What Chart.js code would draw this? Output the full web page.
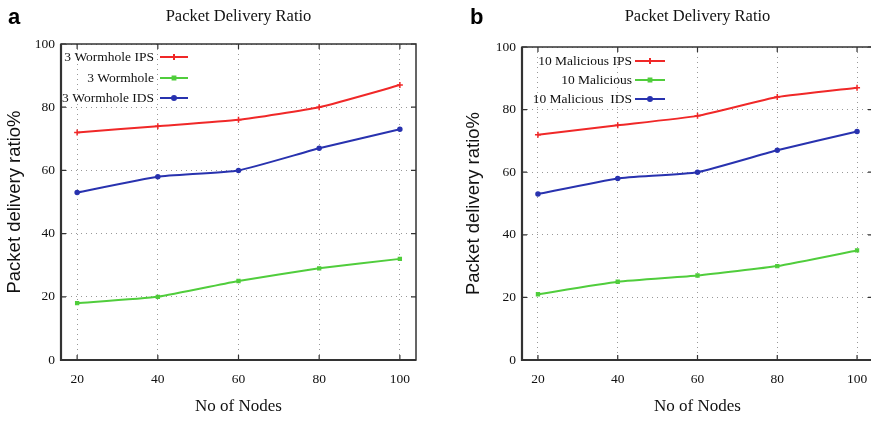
<!DOCTYPE html>
<html><head><meta charset="utf-8">
<script src="https://cdn.jsdelivr.net/npm/chart.js@4"></script>
<style>
html,body{margin:0;padding:0;background:#fff;overflow:hidden;width:871px;height:422px;}
#wa{position:absolute;left:0;top:0;width:435px;height:422px;}
#wb{position:absolute;left:435px;top:0;width:450px;height:422px;}
canvas{display:block;}
</style></head><body>
<div id="wa"><canvas id="ca" width="435" height="422"></canvas></div>
<div id="wb"><canvas id="cb" width="450" height="422"></canvas></div>
<script>
// ---- data ----
const nodes = [20, 40, 60, 80, 100];
const yTicks = [0, 20, 40, 60, 80, 100];
const wormholeIPS = [72, 74, 76, 80, 87];
const wormhole = [18, 20, 25, 29, 32];
const wormholeIDS = [53, 58, 60, 67, 73];
const maliciousIPS = [72, 75, 78, 84, 87];
const malicious = [21, 25, 27, 30, 35];
const maliciousIDS = [53, 58, 60, 67, 73];
const labelsA = ['3 Wormhole IPS', '3 Wormhole', '3 Wormhole IDS'];
const labelsB = ['10 Malicious IPS', '10 Malicious', '10 Malicious  IDS'];
const chartTitle = 'Packet Delivery Ratio';
const xTitle = 'No of Nodes';
const yTitle = 'Packet delivery ratio%';

const RED = 'rgb(240,40,40)', GREEN = 'rgb(80,205,60)', BLUE = 'rgb(40,50,175)';
const SERIF = '"Liberation Serif", "DejaVu Serif", serif';
const SANS = '"Liberation Sans", Arial, sans-serif';
const INK = '#111';

function pts(arr) { return nodes.map((x, i) => ({x: x, y: arr[i]})); }

function ds(label, arr, color, style, r) {
  return {label, data: pts(arr), borderColor: color, backgroundColor: color,
    borderWidth: 2, pointStyle: style, pointRadius: r, pointBorderWidth: 1.5,
    pointHoverRadius: r, tension: 0.15, fill: false};
}

const framePlugin = {
  id: 'frame',
  afterDatasetsDraw(chart) {
    const {ctx, chartArea: a} = chart;
    const xs = chart.scales.x, ys = chart.scales.y;
    ctx.save();
    ctx.strokeStyle = '#333';
    ctx.lineWidth = 1.5;
    ctx.strokeRect(a.left, a.top, a.right - a.left, a.bottom - a.top);
    ctx.lineWidth = 2.2;
    ctx.beginPath();
    ctx.moveTo(a.left, a.top); ctx.lineTo(a.left, a.bottom); ctx.lineTo(a.right, a.bottom);
    ctx.stroke();
    ctx.lineWidth = 1.2;
    ctx.beginPath();
    xs.ticks.forEach(t => {
      const px = xs.getPixelForValue(t.value);
      ctx.moveTo(px, a.top); ctx.lineTo(px, a.top + 5);
      ctx.moveTo(px, a.bottom); ctx.lineTo(px, a.bottom - 5);
    });
    ys.ticks.forEach(t => {
      const py = ys.getPixelForValue(t.value);
      ctx.moveTo(a.left, py); ctx.lineTo(a.left + 5, py);
      ctx.moveTo(a.right, py); ctx.lineTo(a.right - 5, py);
    });
    ctx.stroke();
    ctx.restore();
  }
};

const textPlugin = {
  id: 'texts',
  afterDraw(chart, args, o) {
    const {ctx, chartArea: a} = chart;
    ctx.save();
    ctx.fillStyle = INK;
    ctx.textAlign = 'center';
    ctx.textBaseline = 'middle';
    ctx.font = '16.5px ' + SERIF;
    ctx.fillText(o.title, (a.left + a.right) / 2, 17);
    ctx.textAlign = 'left';
    ctx.textBaseline = 'alphabetic';
    ctx.font = 'bold 22px ' + SANS;
    ctx.fillStyle = '#000';
    ctx.fillText(o.letter, o.letterX, 24);
    // legend
    ctx.font = '13.5px ' + SERIF;
    ctx.textAlign = 'right';
    ctx.textBaseline = 'middle';
    chart.data.datasets.forEach((d, i) => {
      const y = a.top + o.rows[i];
      ctx.fillStyle = INK;
      ctx.fillText(d.label, a.left + o.textRight, y);
      ctx.strokeStyle = d.borderColor;
      ctx.lineWidth = 2;
      ctx.beginPath();
      ctx.moveTo(a.left + o.line0, y); ctx.lineTo(a.left + o.line1, y);
      ctx.stroke();
      ctx.fillStyle = d.borderColor;
      Chart.helpers.drawPoint(ctx, {pointStyle: d.pointStyle, radius: d.pointRadius, rotation: 0, borderWidth: 1.5},
        a.left + (o.line0 + o.line1) / 2, y);
    });
    ctx.restore();
  }
};

function makeChart(id, labels, series, pad, yWidth, textOpts) {
  return new Chart(document.getElementById(id), {
    type: 'line',
    data: {datasets: [
      ds(labels[0], series[0], RED, 'cross', 3),
      ds(labels[1], series[1], GREEN, 'rect', 2),
      ds(labels[2], series[2], BLUE, 'circle', 2)
    ]},
    options: {
      responsive: false, animation: false, devicePixelRatio: 1,
      layout: {padding: pad},
      plugins: {legend: {display: false}, title: {display: false}, tooltip: {enabled: false},
        texts: textOpts},
      scales: {
        x: {type: 'linear', min: 16, max: 104,
          afterBuildTicks: s => { s.ticks = nodes.map(v => ({value: v})); },
          afterFit: s => { s.height = 62; },
          grid: {color: '#999', lineWidth: 1, drawTicks: false},
          border: {display: false, dash: [1, 4]},
          ticks: {padding: 11, color: INK, font: {family: SERIF, size: 13.5}},
          title: {display: true, text: xTitle, color: INK, font: {family: SERIF, size: 17}, padding: {top: 0, bottom: 5}}
        },
        y: {type: 'linear', min: 0, max: 100,
          afterBuildTicks: s => { s.ticks = yTicks.map(v => ({value: v})); },
          afterFit: s => { s.width = yWidth; },
          grid: {color: '#999', lineWidth: 1, drawTicks: false},
          border: {display: false, dash: [1, 4]},
          ticks: {padding: 6, color: INK, font: {family: SERIF, size: 13.5}},
          title: {display: true, text: yTitle, color: INK, font: {family: SANS, size: 18.5}, padding: {top: 4, bottom: 0}}
        }
      }
    },
    plugins: [framePlugin, textPlugin]
  });
}

makeChart('ca', labelsA, [wormholeIPS, wormhole, wormholeIDS],
  {left: 0, top: 44, right: 19, bottom: 0}, 61,
  {title: chartTitle, letter: 'a', letterX: 8, rows: [13, 34, 54], textRight: 93, line0: 99, line1: 127});
makeChart('cb', labelsB, [maliciousIPS, malicious, maliciousIDS],
  {left: 24, top: 47, right: 12, bottom: 0}, 63,
  {title: chartTitle, letter: 'b', letterX: 35, rows: [14, 33, 52], textRight: 110, line0: 113, line1: 143});
</script>
</body></html>
